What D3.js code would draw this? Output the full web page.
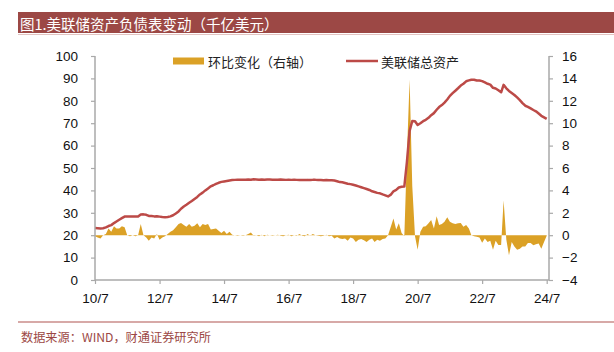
<!DOCTYPE html>
<html>
<head>
<meta charset="utf-8">
<script src="https://cdn.jsdelivr.net/npm/d3@7"></script>
<style>
  body { margin: 0; background: #fff; }
  svg text { font-family: "Liberation Sans", Arial, sans-serif; }
  .cjk { font-family: "Noto Sans CJK SC", sans-serif; }
</style>
</head>
<body>
<div id="chart"></div>
<script>
// monthly, 2010-07 .. 2024-07
const startMonth = new Date(2010, 6, 1);

// 美联储总资产 (千亿美元, left axis)
const totalAssets = [
  23.2, 23.1, 23.0, 23.1, 23.5, 24.1,                                   // 2010 H2
  24.5, 25.4, 26.1, 26.9, 27.6, 28.3, 28.4, 28.3, 28.3, 28.4, 28.3, 29.2, // 2011
  29.3, 29.1, 28.6, 28.6, 28.4, 28.5, 28.3, 28.1, 28.0, 28.1, 28.4, 28.9, // 2012
  29.7, 30.6, 31.8, 32.8, 33.6, 34.5, 35.3, 36.2, 37.1, 38.2, 39.0, 40.0, // 2013
  40.9, 41.8, 42.3, 42.9, 43.4, 43.8, 44.0, 44.2, 44.4, 44.6, 44.7, 44.8, // 2014
  44.8, 44.8, 44.8, 44.9, 44.8, 45.0, 44.9, 44.8, 44.9, 44.8, 44.9, 44.9, // 2015
  44.8, 44.8, 44.8, 44.9, 44.8, 44.7, 44.8, 44.7, 44.8, 44.7, 44.6, 44.6, // 2016
  44.6, 44.7, 44.6, 44.7, 44.7, 44.6, 44.6, 44.5, 44.6, 44.5, 44.5, 44.4, // 2017
  44.1, 43.7, 43.6, 43.3, 43.0, 42.8, 42.5, 42.2, 41.8, 41.4, 41.0, 40.6, // 2018
  40.2, 39.6, 39.3, 38.9, 38.7, 38.2, 37.8, 37.3, 38.1, 39.6, 40.2, 41.3, // 2019
  41.6, 41.7, 52.5, 66.6, 71.0, 70.9, 69.2, 70.0, 70.9, 71.5, 72.4, 73.6, // 2020
  74.5, 76.0, 77.2, 78.1, 79.2, 80.6, 82.2, 83.4, 84.5, 85.6, 86.8, 87.6, // 2021
  88.7, 89.1, 89.4, 89.4, 89.1, 89.1, 88.8, 88.2, 87.6, 87.2, 85.8, 85.5, // 2022
  84.7, 83.8, 87.1, 85.6, 84.4, 83.5, 82.6, 81.5, 80.3, 79.0, 77.8, 77.3, // 2023
  76.6, 75.9, 75.3, 74.3, 73.3, 72.6, 71.9                                // 2024
];

// 环比变化 (千亿美元, right axis)
const monthlyChange = [
  -0.1, -0.2, -0.3, 0.0, 0.1, 0.6,
  0.3, 0.8, 0.6, 0.6, 0.8, 0.7, 0.0, -0.1, 0.0, -0.1, 0.0, 1.0,
  0.0, -0.2, -0.5, -0.2, -0.3, 0.1, -0.4, -0.2, -0.1, 0.1, 0.3, 0.45,
  0.7, 1.0, 1.1, 0.9, 0.75, 1.0, 0.75, 0.85, 1.06, 0.7, 1.0, 0.9,
  1.0, 0.5, 0.55, 0.6, 0.4, 0.2, 0.4, 0.1, 0.3, 0.05, 0.0, -0.05,
  0.0, -0.05, 0.0, 0.1, 0.25, -0.05, 0.0, -0.1, 0.05, -0.1, 0.05, 0.0,
  -0.05, 0.0, 0.05, -0.05, -0.1, 0.0, 0.05, -0.1, 0.0, -0.05, 0.1, -0.05,
  -0.1, 0.1, -0.05, 0.1, 0.0, -0.05, -0.1, -0.05, 0.05, -0.1, -0.05, -0.3,
  -0.15, -0.3, -0.35, -0.3, -0.5, -0.2, -0.3, -0.6, -0.4, -0.35, -0.45, -0.6,
  -0.4, -0.3, -0.6, -0.4, -0.5, -0.35, -0.3, 0.0, 0.75, 1.5, 0.5, 1.06,
  0.2, -0.1, 7.0, 13.9, 4.4, -0.1, -1.3, 0.3, 0.76, 0.8, 1.06, 1.36,
  0.6, 1.7, 0.9, 1.0, 1.2, 1.6, 1.2, 1.06, 1.0, 1.06, 1.1, 0.76,
  0.9, 0.6, 0.0, -0.1, -0.13, -0.2, -0.67, -0.3, -0.6, -0.5, -1.3, -0.5,
  -0.87, -0.87, 3.1, -0.4, -1.8, -0.6, -1.0, -1.3, -1.2, -1.0, -1.0, -0.7,
  -0.7, -0.9, -0.8, -0.75, -1.2, -0.6, -0.05
];

const leftTicks = [0, 10, 20, 30, 40, 50, 60, 70, 80, 90, 100];
const rightTicks = [-4, -2, 0, 2, 4, 6, 8, 10, 12, 14, 16];
const xTickYears = [2010, 2012, 2014, 2016, 2018, 2020, 2022, 2024];

const titleText = "图1.美联储资产负债表变动（千亿美元）";
const sourceText = "数据来源：WIND，财通证券研究所";
const legendNames = ["环比变化（右轴）", "美联储总资产"];

const W = 614, H = 352;
const plot = {left: 95, right: 549, top: 56, bottom: 280};
const gold = "#DBA126", red = "#BC4A47", axisGray = "#A9A9A9";

const data = totalAssets.map((v, i) => ({
  date: d3.timeMonth.offset(startMonth, i),
  assets: v,
  change: monthlyChange[i]
}));

const svg = d3.select("#chart").append("svg")
  .attr("width", W).attr("height", H);

// title bar
svg.append("rect").attr("x", 18).attr("y", 12).attr("width", W - 18).attr("height", 21)
  .attr("fill", "#9C4845");
svg.append("line").attr("x1", 18).attr("x2", W).attr("y1", 34.5).attr("y2", 34.5)
  .attr("stroke", "#E3C4C2").attr("stroke-width", 1);
svg.append("text").attr("class", "cjk")
  .attr("x", 20).attr("y", 23).attr("dominant-baseline", "central")
  .attr("fill", "#fff").style("font-size", "14.5px")
  .text(titleText);

// scales
const x = d3.scaleTime()
  .domain([startMonth, d3.timeMonth.offset(startMonth, 168)])
  .range([95, 546.7]);
const yL = d3.scaleLinear().domain([0, 100]).range([plot.bottom, plot.top]);
const yR = d3.scaleLinear().domain([-4, 16]).range([plot.bottom, plot.top]);

// change area (right axis)
const area = d3.area()
  .x(d => x(d.date))
  .y0(yR(0))
  .y1(d => yR(d.change));
svg.append("path").datum(data)
  .attr("d", area).attr("fill", gold);

// total assets line (left axis)
const line = d3.line()
  .x(d => x(d.date))
  .y(d => yL(d.assets));
svg.append("path").datum(data)
  .attr("d", line).attr("fill", "none")
  .attr("stroke", red).attr("stroke-width", 2.5).attr("stroke-linejoin", "round");

// axes
const fmt = d3.timeFormat("%y/%-m");
const leftAxis = svg.append("g").attr("transform", `translate(${plot.left},0)`)
  .call(d3.axisLeft(yL).tickValues(leftTicks).tickSize(4).tickPadding(13));
const rightAxis = svg.append("g").attr("transform", `translate(${plot.right},0)`)
  .call(d3.axisRight(yR).tickValues(rightTicks).tickSize(4).tickPadding(9));
const bottomAxis = svg.append("g").attr("transform", `translate(0,${plot.bottom})`)
  .call(d3.axisBottom(x).tickValues(xTickYears.map(yr => new Date(yr, 6, 1)))
    .tickFormat(fmt).tickSize(4).tickPadding(9));

[leftAxis, rightAxis, bottomAxis].forEach(g => {
  g.select(".domain").remove();
  g.selectAll(".tick line").attr("stroke", axisGray).attr("stroke-width", 1.2);
  g.selectAll(".tick text").attr("fill", "#111").style("font-size", "13.5px")
    .style("font-family", "'Liberation Sans', Arial, sans-serif");
});

svg.append("line").attr("x1", plot.left).attr("x2", plot.left)
  .attr("y1", plot.top).attr("y2", plot.bottom)
  .attr("stroke", axisGray).attr("stroke-width", 1.5);
svg.append("line").attr("x1", plot.right).attr("x2", plot.right)
  .attr("y1", plot.top).attr("y2", plot.bottom)
  .attr("stroke", axisGray).attr("stroke-width", 1.5);
svg.append("line").attr("x1", plot.left).attr("x2", plot.right)
  .attr("y1", plot.bottom).attr("y2", plot.bottom)
  .attr("stroke", axisGray).attr("stroke-width", 1.5);

// legend
const lg = svg.append("g");
lg.append("rect").attr("x", 173).attr("y", 57.5).attr("width", 31).attr("height", 7)
  .attr("fill", gold);
lg.append("text").attr("class", "cjk").attr("x", 208).attr("y", 61)
  .attr("dominant-baseline", "central").style("font-size", "13px").attr("fill", "#222")
  .text(legendNames[0]);
lg.append("line").attr("x1", 346).attr("x2", 378).attr("y1", 61).attr("y2", 61)
  .attr("stroke", red).attr("stroke-width", 2.5);
lg.append("text").attr("class", "cjk").attr("x", 381).attr("y", 61)
  .attr("dominant-baseline", "central").style("font-size", "13px").attr("fill", "#222")
  .text(legendNames[1]);

// footer
svg.append("line").attr("x1", 18).attr("x2", W).attr("y1", 322).attr("y2", 322)
  .attr("stroke", "#D7A9A7").attr("stroke-width", 2);
svg.append("text").attr("class", "cjk")
  .attr("x", 21).attr("y", 337).attr("dominant-baseline", "central")
  .attr("fill", "#9C4845").style("font-size", "12.2px")
  .text(sourceText);
</script>
</body>
</html>
